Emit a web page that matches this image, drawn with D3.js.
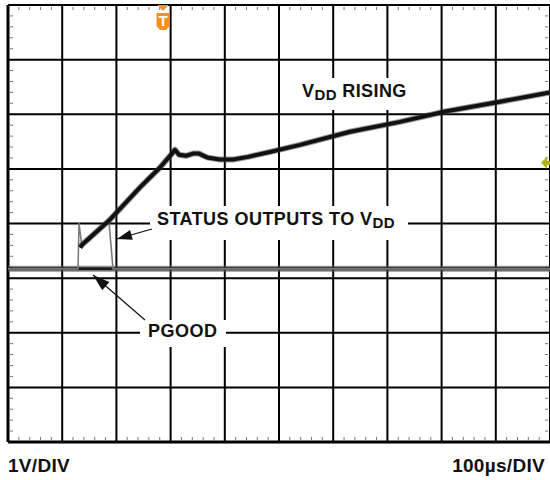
<!DOCTYPE html>
<html>
<head>
<meta charset="utf-8">
<script src="https://cdn.jsdelivr.net/npm/d3@7/dist/d3.min.js"></script>
<style>
  html, body { margin: 0; padding: 0; background: #fff; }
  svg { display: block; }
  text { font-family: "Liberation Sans", Arial, Helvetica, sans-serif; font-weight: bold; fill: #111; }
</style>
</head>
<body>
<svg id="chart" width="550" height="480"></svg>
<script>
// ---- data (time in µs, voltage in V relative to the trace baseline) ----
const timeTicks = [0, 100, 200, 300, 400, 500, 600, 700, 800, 900, 1000];   // 100 µs/DIV
const voltDivs  = [0, 1, 2, 3, 4, 5, 6, 7, 8];                              // 1 V/DIV (division index)
const vddT  = [133, 136.5, 188, 243.5, 280, 302.6, 308, 315.5, 328.4, 341.3, 352.4, 367.2, 391.1, 415.1, 442.8, 483.4, 538.7, 631, 723.2, 806.3, 907.7, 1000];
const vddV  = [0.39, 0.44, 0.90, 1.49, 1.85, 2.11, 2.18, 2.09, 2.07, 2.11, 2.11, 2.04, 2.00, 2.00, 2.05, 2.14, 2.27, 2.51, 2.69, 2.88, 3.06, 3.23];
const statT = [0, 129.2, 131.0, 136.5, 186.3, 193.7, 1000];
const statV = [0, 0, 0.83, 0.41, 0.86, 0, 0];
const pgoodT = [0, 1000];
const pgoodV = [0, 0];
const trigT = 286;        // trigger marker position
const refV  = 1.94;       // channel reference marker on right edge
const labels = {
  vdd: ["V", "DD", " RISING"],
  status: ["STATUS OUTPUTS TO V", "DD"],
  pgood: "PGOOD",
  vdiv: "1V/DIV",
  tdiv: "100\u00B5s/DIV"
};

// ---- layout ----
const L = 8, R = 550, T = 5, B = 442;
const x = d3.scaleLinear().domain([0, 1000]).range([L, R]);
const y = d3.scaleLinear().domain([-3.17, 4.83]).range([B, T]);
const vAt = i => y.domain()[0] + i;

const svg = d3.select("#chart");

// minor ticks (5 per division) on the four edges
const g = svg.append("g");
const minorX = d3.range(0, 1000, 20).filter(t => t % 100 !== 0);
const minorY = d3.range(0, 8, 0.2).map(d => +d.toFixed(1)).filter(d => Math.abs(d - Math.round(d)) > 0.01);
g.selectAll(".mxt").data(minorX).join("line")
  .attr("x1", d => x(d)).attr("x2", d => x(d)).attr("y1", T + 2).attr("y2", T + 5)
  .attr("stroke", "#777").attr("stroke-width", 1);
g.selectAll(".mxb").data(minorX).join("line")
  .attr("x1", d => x(d)).attr("x2", d => x(d)).attr("y1", B - 5).attr("y2", B - 2)
  .attr("stroke", "#777").attr("stroke-width", 1);
g.selectAll(".myl").data(minorY).join("line")
  .attr("x1", L + 2).attr("x2", L + 5).attr("y1", d => y(vAt(d))).attr("y2", d => y(vAt(d)))
  .attr("stroke", "#777").attr("stroke-width", 1);
g.selectAll(".myr").data(minorY).join("line")
  .attr("x1", R - 5).attr("x2", R - 2).attr("y1", d => y(vAt(d))).attr("y2", d => y(vAt(d)))
  .attr("stroke", "#777").attr("stroke-width", 1);

// major grid
g.selectAll(".vx").data(timeTicks).join("line")
  .attr("x1", d => x(d)).attr("x2", d => x(d)).attr("y1", T).attr("y2", B)
  .attr("stroke", "#000").attr("stroke-width", (d, i) => i === 0 ? 3 : 2);
g.selectAll(".hy").data(voltDivs).join("line")
  .attr("x1", L).attr("x2", R).attr("y1", d => y(vAt(d))).attr("y2", d => y(vAt(d)))
  .attr("stroke", "#000").attr("stroke-width", (d, i) => (i === 0) ? 3 : 2);

// white label boxes interrupting the grid
[[295, 78, 117, 32], [150, 206, 258, 34], [140, 320, 86, 27]].forEach(b => {
  svg.append("rect").attr("x", b[0]).attr("y", b[1]).attr("width", b[2]).attr("height", b[3]).attr("fill", "#fff");
});

// traces
const line = d3.line().x(d => x(d[0])).y(d => y(d[1]));
const zip = (a, b) => a.map((t, i) => [t, b[i]]);

const pg = zip(pgoodT, pgoodV);
svg.append("path").attr("d", line(pg)).attr("fill", "none").attr("stroke", "#555").attr("stroke-width", 6).attr("opacity", 0.65);
svg.append("path").attr("d", line(pg)).attr("fill", "none").attr("stroke", "#1c1c1c").attr("stroke-width", 3);

const st = zip(statT, statV);
svg.append("path").attr("d", line(st)).attr("fill", "none").attr("stroke", "#7a7a7a").attr("stroke-width", 1.6).attr("stroke-linejoin", "round");

const vd = zip(vddT, vddV);
svg.append("path").attr("d", line(vd)).attr("fill", "none").attr("stroke", "#444").attr("stroke-width", 6).attr("opacity", 0.55).attr("stroke-linejoin", "round");
svg.append("path").attr("d", line(vd)).attr("fill", "none").attr("stroke", "#111").attr("stroke-width", 4).attr("stroke-linejoin", "round");

// arrows
function arrow(x1, y1, x2, y2, len, wid, sw) {
  svg.append("line").attr("x1", x1).attr("y1", y1).attr("x2", x2).attr("y2", y2)
    .attr("stroke", "#111").attr("stroke-width", sw);
  const a = Math.atan2(y2 - y1, x2 - x1);
  const bx = x2 - len * Math.cos(a), by = y2 - len * Math.sin(a);
  const px = -Math.sin(a) * wid / 2, py = Math.cos(a) * wid / 2;
  svg.append("polygon").attr("points", `${x2},${y2} ${bx + px},${by + py} ${bx - px},${by - py}`).attr("fill", "#111");
}
arrow(152, 229, 117, 239, 15, 10, 1.2);
arrow(145, 320, 93, 275, 17, 11, 1.2);

// trigger marker (top)
const tx = x(trigT);
svg.append("polygon").attr("points", `${tx - 5.5},${T} ${tx + 5.5},${T} ${tx},${T + 6}`).attr("fill", "#f7901e");
svg.append("polygon").attr("points", `${tx - 6.5},${T + 8} ${tx + 6.5},${T + 8} ${tx + 6.5},${T + 21} ${tx + 3},${T + 25} ${tx - 3},${T + 25} ${tx - 6.5},${T + 21}`).attr("fill", "#f7901e");
svg.append("text").attr("x", tx).attr("y", T + 21).attr("text-anchor", "middle")
  .style("font-size", "15px").style("fill", "#fff").text("T");

// channel reference marker (right)
const ry = y(refV);
svg.append("polygon").attr("points", `${R - 9},${ry} ${R - 3},${ry - 6} ${R - 3},${ry - 2} ${R},${ry - 2} ${R},${ry + 2} ${R - 3},${ry + 2} ${R - 3},${ry + 6}`).attr("fill", "#b5b300");

// labels
const t1 = svg.append("text").attr("x", 302).attr("y", 97).style("font-size", "18px").style("letter-spacing", "0.4px");
t1.append("tspan").text(labels.vdd[0]);
t1.append("tspan").attr("dy", 3).style("font-size", "15px").text(labels.vdd[1]);
t1.append("tspan").attr("dy", -3).text(labels.vdd[2]);

const t2 = svg.append("text").attr("x", 157).attr("y", 225).style("font-size", "18px").style("letter-spacing", "0.45px");
t2.append("tspan").text(labels.status[0]);
t2.append("tspan").attr("dy", 3).style("font-size", "15px").text(labels.status[1]);

svg.append("text").attr("x", 148).attr("y", 337).style("font-size", "18px").style("letter-spacing", "0.5px").text(labels.pgood);
svg.append("text").attr("x", 8).attr("y", 472).style("font-size", "19px").style("letter-spacing", "0.3px").text(labels.vdiv);
svg.append("text").attr("x", 545).attr("y", 472).attr("text-anchor", "end").style("font-size", "19px").style("letter-spacing", "0.3px").text(labels.tdiv);
</script>
</body>
</html>
